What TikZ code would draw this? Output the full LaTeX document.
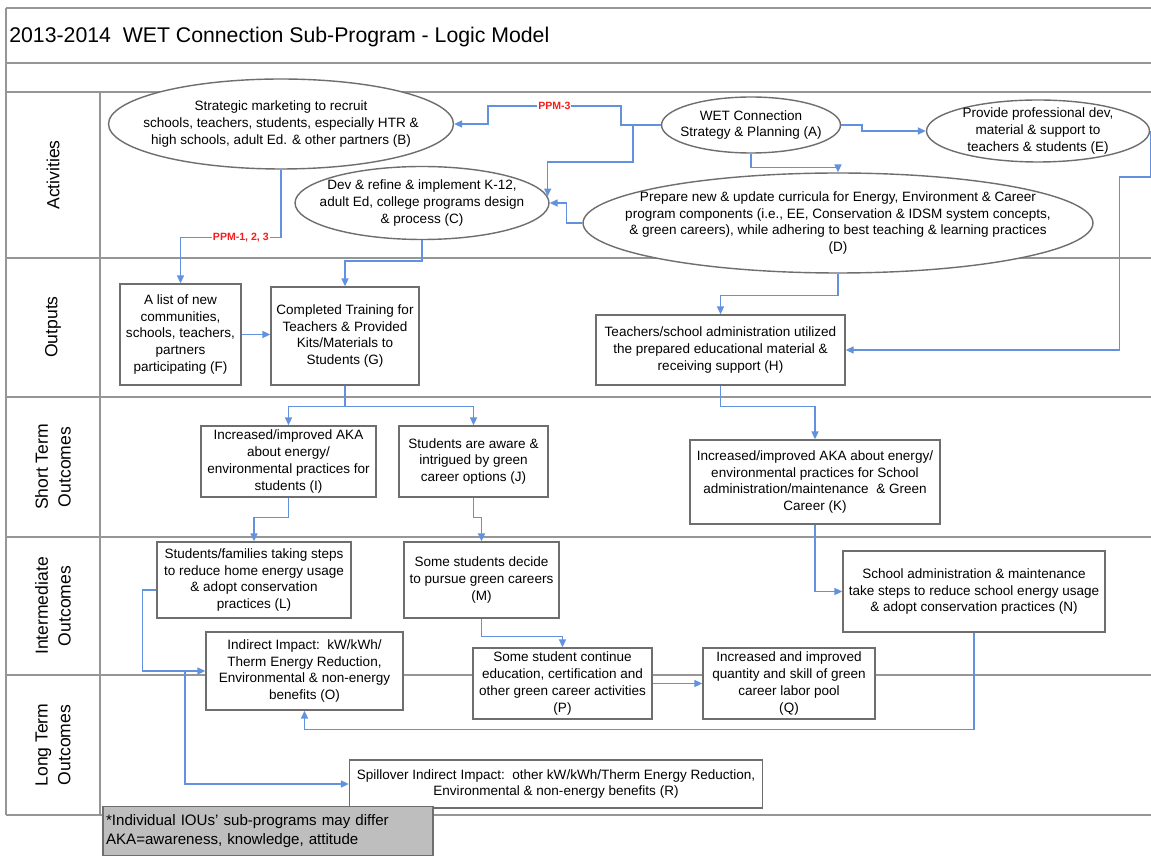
\documentclass[tikz,border=0pt]{standalone}
\usepackage{fontspec}
\setmainfont{Liberation Sans}
\usetikzlibrary{arrows.meta, shapes.geometric}

\definecolor{lineblue}{RGB}{98,146,222}
\definecolor{ppmred}{RGB}{245,30,30}
\definecolor{lanegray}{RGB}{150,150,150}
\definecolor{boxgray}{RGB}{110,110,110}
\definecolor{notegray}{RGB}{190,190,190}

\newcommand{\boxfont}{\fontsize{7.7}{9.6}\selectfont}

\tikzset{
  lane/.style={draw=lanegray, line width=1.1pt},
  actell/.style={ellipse, draw=boxgray, line width=0.8pt, fill=white, inner sep=0pt},
  acttext/.style={align=center, font=\boxfont, inner sep=0pt},
  outbox/.style={rectangle, draw=boxgray, line width=0.8pt, fill=white, inner sep=1pt, align=center, font=\boxfont},
  lanelabel/.style={rotate=90, align=center, font=\fontsize{10}{13}\selectfont},
  conn/.style={draw=lineblue, line width=0.8pt, -{Triangle[length=4.5pt,width=4pt]}},
  ppm/.style={text=ppmred, font=\fontsize{6}{7}\selectfont\bfseries, fill=white, inner sep=0.5pt}
}

\begin{document}
\begin{tikzpicture}[x=0.02cm, y=-0.02cm]
    \useasboundingbox (0,0) rectangle (1151,857);

    % ---------- frame and lanes ----------
    \foreach \y in {8,63,92,258,397,537,675,815}
      \draw[lane] (6,\y) -- (1151,\y);
    \draw[lane] (6,8) -- (6,815);
    \draw[lane] (100,92) -- (100,815);

    \node[anchor=west, inner sep=0pt, font=\fontsize{12.1}{14}\selectfont] (title) at (9,37)
      {2013-2014\ \ WET Connection Sub-Program - Logic Model};

    \node[lanelabel] (lblact) at (53,175) {Activities};
    \node[lanelabel] (lblout) at (53,327) {Outputs};
    \node[lanelabel] (lblshort) at (53,467) {Short Term\\Outcomes};
    \node[lanelabel] (lblinter) at (53,606) {Intermediate\\Outcomes};
    \node[lanelabel] (lbllong) at (53,745) {Long Term\\Outcomes};

    % ---------- Activities ----------
    \node[actell, minimum width=3.58cm, minimum height=1.12cm] (A) at (751,125) {};
    \node[acttext] (Atext) at (A) {WET Connection\\Strategy \& Planning (A)};

    \node[actell, minimum width=6.9cm, minimum height=1.8cm] (B) at (281,124) {};
    \node[acttext] (Btext) at (B) {Strategic marketing to recruit\\schools, teachers, students, especially HTR \&\\high schools, adult Ed. \& other partners (B)};

    \node[actell, minimum width=5.08cm, minimum height=1.46cm] (C) at (422,203) {};
    \node[acttext] (Ctext) at (C) {Dev \& refine \& implement K-12,\\adult Ed, college programs design\\\& process (C)};

    \node[actell, minimum width=10.2cm, minimum height=2.0cm] (D) at (838,223) {};
    \node[acttext] (Dtext) at (D) {Prepare new \& update curricula for Energy, Environment \& Career\\program components (i.e., EE, Conservation \& IDSM system concepts,\\\& green careers), while adhering to best teaching \& learning practices\\(D)};

    \node[actell, minimum width=4.46cm, minimum height=1.24cm] (E) at (1038,131) {};
    \node[acttext] (Etext) at (E) {Provide professional dev,\\material \& support to\\teachers \& students (E)};

    % ---------- Outputs ----------
    \node[outbox, minimum width=2.42cm, minimum height=2.02cm] (F) at (180.5,334.5) {A list of new\\communities,\\schools, teachers,\\partners\\participating (F)};
    \node[outbox, minimum width=2.96cm, minimum height=1.96cm] (G) at (345,336) {Completed Training for\\Teachers \& Provided\\Kits/Materials to\\Students (G)};
    \node[outbox, minimum width=4.98cm, minimum height=1.4cm] (H) at (720.5,350) {Teachers/school administration utilized\\the prepared educational material \&\\receiving support (H)};

    % ---------- Short term outcomes ----------
    \node[outbox, minimum width=3.5cm, minimum height=1.42cm] (I) at (288.5,461.5) {Increased/improved AKA\\about energy/\\environmental practices for\\students (I)};
    \node[outbox, minimum width=2.98cm, minimum height=1.42cm] (J) at (473.5,461.5) {Students are aware \&\\intrigued by green\\career options (J)};
    \node[outbox, minimum width=5.0cm, minimum height=1.68cm] (K) at (815,482) {Increased/improved AKA about energy/\\environmental practices for School\\administration/maintenance\ \ \& Green\\Career (K)};

    % ---------- Intermediate outcomes ----------
    \node[outbox, minimum width=3.88cm, minimum height=1.52cm] (L) at (254,580) {Students/families taking steps\\to reduce home energy usage\\\& adopt conservation\\practices (L)};
    \node[outbox, minimum width=3.1cm, minimum height=1.52cm] (M) at (481.5,580) {Some students decide\\to pursue green careers\\(M)};
    \node[outbox, minimum width=5.24cm, minimum height=1.62cm] (N) at (974,591.5) {School administration \& maintenance\\take steps to reduce school energy usage\\\& adopt conservation practices (N)};

    % ---------- Long term outcomes ----------
    \node[outbox, minimum width=3.94cm, minimum height=1.56cm] (O) at (304.5,671) {Indirect Impact:\ \ kW/kWh/\\Therm Energy Reduction,\\Environmental \& non-energy\\benefits (O)};
    \node[outbox, minimum width=3.58cm, minimum height=1.42cm] (P) at (562.5,683.5) {Some student continue\\education, certification and\\other green career activities\\(P)};
    \node[outbox, minimum width=3.44cm, minimum height=1.42cm] (Q) at (789,683.5) {Increased and improved\\quantity and skill of green\\career labor pool\\(Q)};
    \node[outbox, minimum width=8.26cm, minimum height=0.96cm] (R) at (556,784) {Spillover Indirect Impact:\ \ other kW/kWh/Therm Energy Reduction,\\Environmental \& non-energy benefits (R)};

    % note
    \node[rectangle, draw=boxgray, line width=0.8pt, fill=notegray, minimum width=6.6cm, minimum height=0.98cm,
          inner xsep=0.06cm, text width=6.48cm, align=left, font=\fontsize{8.6}{10.8}\selectfont] (note) at (268,831)
      {*Individual IOUs' sub-programs may differ\\AKA=awareness, knowledge, attitude};

    % ---------- connectors ----------
    \coordinate (asplit) at (633,125);
    \draw[conn] (A.west) -- ++(-40,0) |- node[ppm, pos=0.75] {PPM-3} (488,106) |- (B.east);
    \draw[conn] (asplit) -- ++(0,37) -| (C.3);
    \draw[conn] (D.west) -- ++(-16,0) |- (C.east);
    \draw[conn] (A.south) -- ++(0,14) -| (D.north);
    \draw[conn] (A.east) -- ++(21,0) |- (E.west);
    \draw[conn] (E.east) -- ++(0,46) -- ++(-31,0) |- (H.east);

    \draw[conn] (B.south) -- ++(0,68) -| node[ppm, pos=0.2] {PPM-1, 2, 3} (F.north);
    \draw[conn] (C.south) -- ++(0,21) -| (G.north);
    \draw[conn] (F.east) -- (F.east -| G.west);
    \draw[conn] (D.south) -- ++(0,22) -| (H.north);

    \draw[conn] (G.south) -- ++(0,21) coordinate (gsplit) -| (I.north);
    \draw[conn] (gsplit) -| (J.north);
    \draw[conn] (H.south) -- ++(0,21) -| (K.north);

    \draw[conn] (I.south) -- ++(0,20) -| (L.north);
    \draw[conn] (J.south) -- ++(0,20) -| (M.north);
    \draw[conn] (K.south) |- (N.west);

    \coordinate (lsplit) at (185,671);
    \draw[conn] ([yshift=-0.2cm]L.west) -- ++(-14,0) |- (O.west);
    \draw[conn] (lsplit) |- (R.west);
    \draw[conn] (M.south) -- ++(0,18) -| (P.north);
    \draw[conn] (P.east) -- (Q.west);
    \draw[conn] (N.south) -- ++(0,97) -| (O.south);
\end{tikzpicture}
\end{document}
